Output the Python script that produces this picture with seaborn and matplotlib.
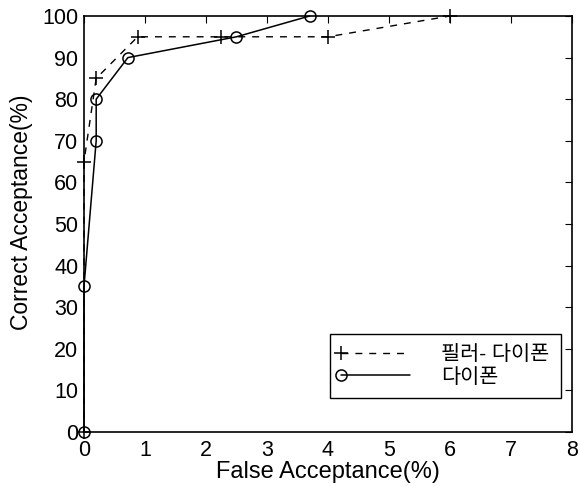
import pandas as pd
import matplotlib
matplotlib.use('Agg')
import matplotlib.pyplot as plt
from matplotlib.legend_handler import HandlerLine2D
import seaborn as sns

# 필러- 다이폰 (dashed, +)
filler_fa = [0, 0, 0.2, 0.88, 2.25, 4.0, 6.0]
filler_ca = [0, 65, 85, 95, 95, 95, 100]
# 다이폰 (solid, o)
diphone_fa = [0, 0, 0.2, 0.2, 0.72, 2.5, 3.7]
diphone_ca = [0, 35, 70, 80, 90, 95, 100]

labels = ['필러- 다이폰', '다이폰']

sns.set_theme(style='white')
plt.rcParams['font.family'] = ['Liberation Sans', 'Noto Sans CJK KR']
plt.rcParams['text.color'] = 'black'
plt.rcParams['axes.labelcolor'] = 'black'


class LeftMarker(HandlerLine2D):
    # MATLAB style legend: marker sits at the left end of the line sample
    def create_artists(self, *args, **kwargs):
        artists = super().create_artists(*args, **kwargs)
        for a in artists:
            a.set_markevery([0])
        return artists


df = pd.concat([
    pd.DataFrame({'fa': filler_fa, 'ca': filler_ca, 'series': labels[0]}),
    pd.DataFrame({'fa': diphone_fa, 'ca': diphone_ca, 'series': labels[1]}),
])

fig = plt.figure(figsize=(5.8, 4.86), dpi=100)
ax = fig.add_axes([0.1448, 0.1111, 0.8414, 0.856])

sns.lineplot(data=df[df.series == labels[0]], x='fa', y='ca', sort=False,
             estimator=None, color='black', linestyle=(0, (5, 5)), linewidth=1,
             marker='+', markersize=10, markeredgecolor='black', markeredgewidth=1.1,
             label=labels[0], ax=ax, clip_on=False)
sns.lineplot(data=df[df.series == labels[1]], x='fa', y='ca', sort=False,
             estimator=None, color='black', linestyle='-', linewidth=1.1,
             marker='o', markersize=8, markerfacecolor='none',
             markeredgecolor='black', markeredgewidth=1.1, label=labels[1],
             ax=ax, clip_on=False)

ax.set_xlim(0, 8)
ax.set_ylim(0, 100)
ax.set_xticks(range(0, 9))
ax.set_yticks(range(0, 101, 10))
ax.tick_params(direction='in', top=True, right=True, length=5, width=0.8,
               labelsize=15.5, colors='black')
ax.tick_params(axis='x', pad=6)
ax.tick_params(axis='y', pad=4)
for s in ax.spines.values():
    s.set_color('black')
    s.set_linewidth(1.2)
ax.set_xlabel('False Acceptance(%)', fontsize=17, labelpad=0)
ax.set_ylabel('Correct Acceptance(%)', fontsize=16.5)
ax.yaxis.set_label_coords(-0.104, 0.529)

handles, _ = ax.get_legend_handles_labels()
leg = ax.legend(handles, labels, loc='lower right', bbox_to_anchor=(0.9775, 0.0817),
                borderaxespad=0, fontsize=15, frameon=True, fancybox=False,
                edgecolor='black', framealpha=1, numpoints=1,
                handlelength=3.3, borderpad=0.55, labelspacing=0.15,
                handletextpad=1.5,
                handler_map={h: LeftMarker() for h in handles})
leg.get_frame().set_linewidth(1)

plt.savefig('out.png', dpi=100)
